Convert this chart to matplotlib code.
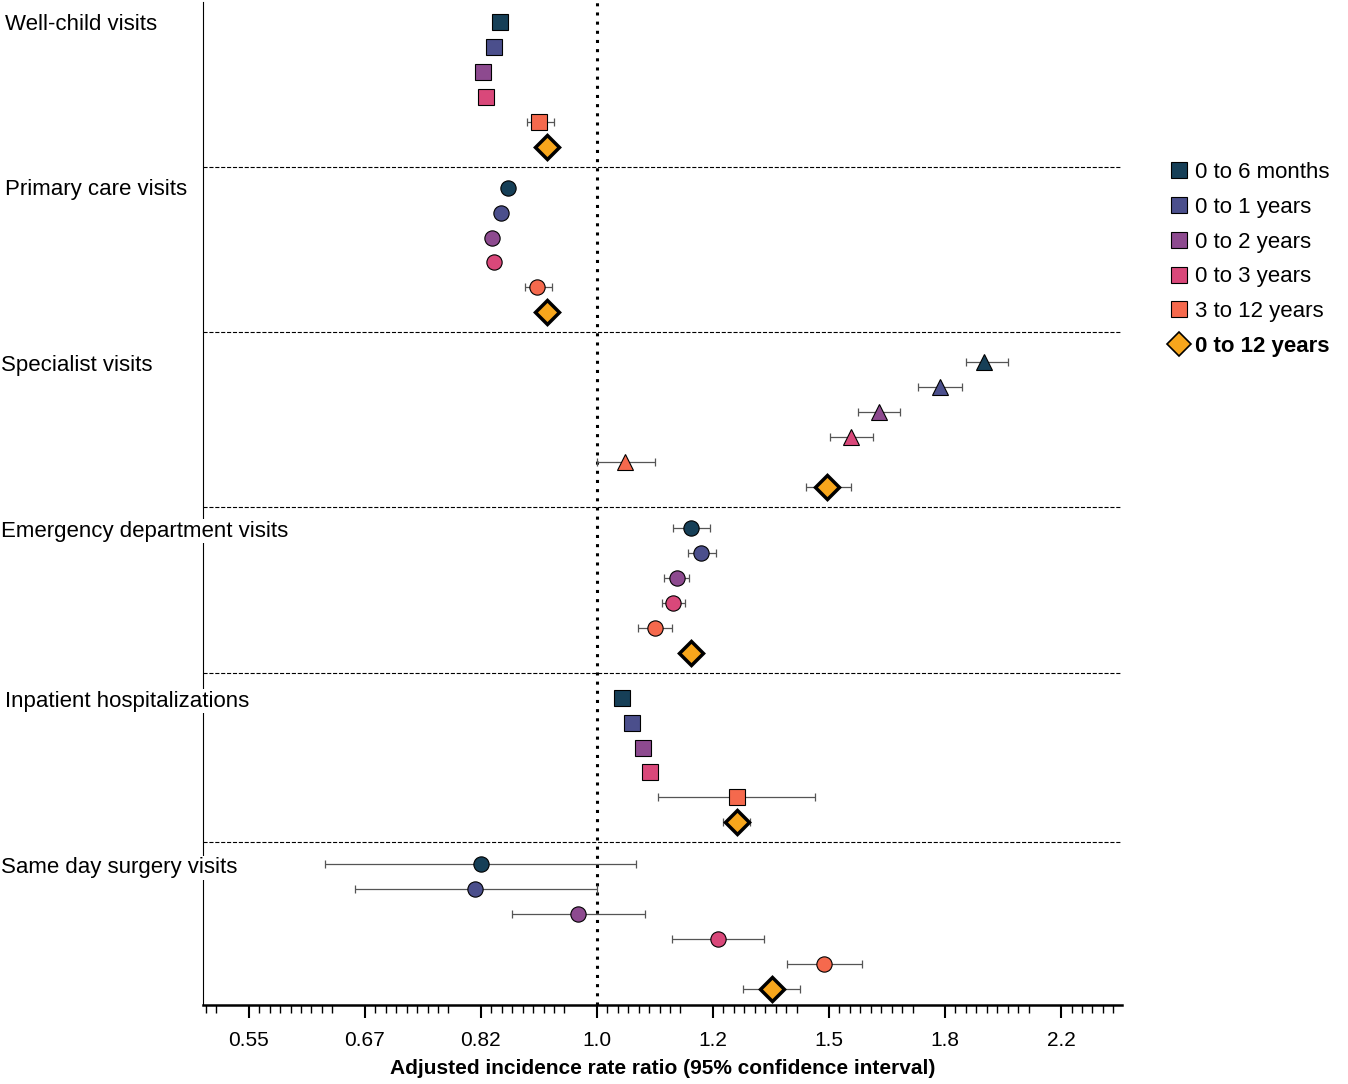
import matplotlib.pyplot as plt
import numpy as np
from matplotlib.lines import Line2D
from matplotlib.ticker import NullFormatter

groups = ["Well-child visits", "Primary care visits", "Specialist visits",
          "Emergency department visits", "Inpatient hospitalizations", "Same day surgery visits"]
group_markers = ["s", "o", "^", "o", "s", "o"]
age_labels = ["0 to 6 months", "0 to 1 years", "0 to 2 years", "0 to 3 years", "3 to 12 years", "0 to 12 years"]
colors = ["#163f57", "#4b4f8c", "#8d4a8f", "#d9487a", "#f5694d", "#f7a61c"]

# rate ratio, lower CI, upper CI (None = no visible bar)
irr = [
    [0.846, 0.837, 0.822, 0.826, 0.905, 0.918],
    [0.858, 0.847, 0.834, 0.837, 0.902, 0.918],
    [1.95, 1.805, 1.625, 1.55, 1.05, 1.486],
    [1.176, 1.197, 1.147, 1.141, 1.105, 1.176],
    [1.044, 1.063, 1.082, 1.095, 1.273, 1.273],
    [0.819, 0.811, 0.968, 1.232, 1.479, 1.352],
]
lo = [
    [None, None, None, None, 0.886, None],
    [None, None, None, None, 0.883, None],
    [1.889, 1.74, 1.568, 1.494, 1.0, 1.434],
    [1.141, 1.17, 1.123, 1.119, 1.074, 1.16],
    [None, None, None, None, 1.111, 1.243],
    [0.626, 0.659, 0.864, 1.139, 1.387, 1.286],
]
hi = [
    [None, None, None, None, 0.928, None],
    [None, None, None, None, 0.925, None],
    [2.03, 1.875, 1.687, 1.61, 1.105, 1.549],
    [1.215, 1.228, 1.172, 1.164, 1.139, 1.195],
    [None, None, None, None, 1.457, 1.303],
    [1.070, 1.0, 1.086, 1.333, 1.58, 1.419],
]
tick_vals = [np.exp(k * 0.2) for k in range(-3, 5)]
tick_labels = ["0.55", "0.67", "0.82", "1.0", "1.2", "1.5", "1.8", "2.2"]

fig = plt.figure(figsize=(13.48, 10.84), dpi=100)
plt.rcParams['font.family'] = ['Liberation Sans', 'DejaVu Sans']
ax = fig.add_axes([203 / 1348, 79 / 1084, 919 / 1348, 1003 / 1084])

group_starts = [20, 186, 361, 527, 697, 864]
for g in range(6):
    y0 = group_starts[g]
    for i in range(6):
        y = y0 + i * 25
        x = irr[g][i]
        if lo[g][i] is not None:
            ax.errorbar(x, y, xerr=[[x - lo[g][i]], [hi[g][i] - x]], fmt="none",
                        ecolor="#555555", elinewidth=0.9, capsize=3, capthick=0.9, zorder=2)
        if i == 5:
            ax.plot(x, y, marker="D", ms=12, mfc=colors[i], mec="black", mew=2.5, zorder=4)
        else:
            ax.plot(x, y, marker=group_markers[g], ms=11, mfc=colors[i], mec="black", mew=0.8, zorder=3)
    if g < 5:
        ax.axhline(y0 + 145, color="black", ls="--", lw=0.8)
    fig.text(0.004 if g in (0, 1, 4) else 0.001, 1 - (y0 + 4) / 1084, groups[g],
             fontsize=16, ha="left", va="center",
             bbox=dict(facecolor="white", edgecolor="none", pad=1))

ax.axvline(1.0, color="black", ls=(0, (1, 2)), lw=2.2, zorder=1)
ax.set_xscale("log")
ax.set_xticks(tick_vals)
ax.set_xticklabels(tick_labels, fontsize=15)
minor = [np.exp(-0.8 + k * 0.2 + j * 0.018) for k in range(9) for j in range(1, 9)]
ax.set_xticks(minor, minor=True)
ax.xaxis.set_minor_formatter(NullFormatter())
ax.set_xlim(np.exp(-0.679), np.exp(0.905))
ax.set_ylim(1005, 0)
ax.tick_params(axis="x", which="major", length=9, width=1.5, pad=10)
ax.tick_params(axis="x", which="minor", length=6, width=1)
ax.set_yticks([])
for s in ["top", "right"]:
    ax.spines[s].set_visible(False)
ax.spines["bottom"].set_linewidth(1.8)
ax.spines["left"].set_linewidth(0.8)
ax.set_xlabel("Adjusted incidence rate ratio (95% confidence interval)", fontsize=15, fontweight="bold", labelpad=6)

handles = [Line2D([], [], marker="s", ls="none", ms=11, mfc=colors[i], mec="black", mew=0.8) for i in range(5)]
handles.append(Line2D([], [], marker="D", ls="none", ms=12, mfc=colors[5], mec="black", mew=1.2))
leg = fig.legend(handles, age_labels, loc="upper left", bbox_to_anchor=(1166 / 1348, 1 - 162 / 1084),
                 frameon=False, fontsize=16, handletextpad=0.1, labelspacing=0.62, handlelength=1.2,
                 borderaxespad=0, borderpad=0)
leg.get_texts()[5].set_fontweight("bold")

fig.savefig("out.png", dpi=100)
